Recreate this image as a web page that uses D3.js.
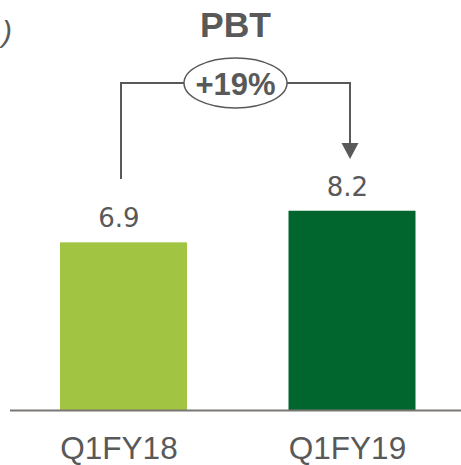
<!DOCTYPE html>
<html><head><meta charset="utf-8">
<script src="https://cdn.jsdelivr.net/npm/d3@7"></script>
<style>html,body{margin:0;padding:0;background:#fff;overflow:hidden}</style>
</head><body>
<svg id="chart" width="461" height="465"></svg>
<script>
const categories = ["Q1FY18", "Q1FY19"];
const values = [6.9, 8.2];
const valueLabels = ["6.9", "8.2"];
const colors = ["#A1C543", "#00662E"];
const title = "PBT";
const growthLabel = "+19%";
const unitFragment = ")";

const svg = d3.select("#chart");
const grey = "#595959";

const xPos = d3.scalePoint().domain(categories).range([123.5, 352]);
const bw = 127;
const y = d3.scaleLinear().domain([0, 10]).range([410, 167]);

// unit fragment at the left edge
svg.append("text").attr("x", 2).attr("y", 42).attr("text-anchor", "start")
  .attr("font-family", "Liberation Sans, Arial, sans-serif").attr("font-size", 30)
  .attr("font-style", "italic").attr("fill", grey).text(unitFragment);

// title
svg.append("text").attr("x", 235.5).attr("y", 37).attr("text-anchor", "middle")
  .attr("font-family", "Liberation Sans, Arial, sans-serif").attr("font-size", 35.5)
  .attr("font-weight", "bold").attr("fill", grey).text(title);

// bars
svg.selectAll("rect.bar").data(values).join("rect").attr("class", "bar")
  .attr("x", (d, i) => xPos(categories[i]) - bw / 2)
  .attr("width", bw)
  .attr("y", d => y(d))
  .attr("height", d => y(0) - y(d))
  .attr("fill", (d, i) => colors[i]);

// value labels
svg.selectAll("text.val").data(values).join("text").attr("class", "val")
  .attr("x", (d, i) => xPos(categories[i]) - 4.5)
  .attr("y", d => y(d) - 15)
  .attr("text-anchor", "middle")
  .attr("font-family", "DejaVu Sans, sans-serif").attr("font-size", 26)
  .attr("fill", grey).text((d, i) => valueLabels[i]);

// baseline axis
svg.append("line").attr("x1", 10).attr("x2", 461).attr("y1", y(0) + 0.5).attr("y2", y(0) + 0.5)
  .attr("stroke", "#7a7774").attr("stroke-width", 2);

// category labels
const xAxis = d3.axisBottom(xPos).tickSize(0).tickPadding(0);
const ax = svg.append("g").attr("transform", `translate(-5,${y(0)})`).call(xAxis);
ax.select(".domain").remove();
ax.selectAll("text").attr("y", 49).attr("dy", 0)
  .attr("font-family", "Liberation Sans, Arial, sans-serif").attr("font-size", 31.5)
  .attr("fill", grey);

// growth bracket
const x1 = 121, x2 = 350, yTop = 83;
const cx = 235.5, rx = 51.5, ry = 25;
svg.append("path").attr("fill", "none").attr("stroke", grey).attr("stroke-width", 2)
  .attr("d", `M${x1},179 V${yTop} H${cx - rx}`);
svg.append("path").attr("fill", "none").attr("stroke", grey).attr("stroke-width", 2)
  .attr("d", `M${cx + rx},${yTop} H${x2} V145`);
svg.append("path").attr("fill", grey)
  .attr("d", `M${x2 - 8.5},143 L${x2 + 8.5},143 L${x2},159 Z`);
svg.append("ellipse").attr("cx", cx).attr("cy", yTop).attr("rx", rx).attr("ry", ry)
  .attr("fill", "#fff").attr("stroke", grey).attr("stroke-width", 1.5);
svg.append("text").attr("x", cx).attr("y", 95).attr("text-anchor", "middle")
  .attr("font-family", "Liberation Sans, Arial, sans-serif").attr("font-size", 31)
  .attr("font-weight", "bold").attr("fill", grey).text(growthLabel);
</script>
</body></html>
